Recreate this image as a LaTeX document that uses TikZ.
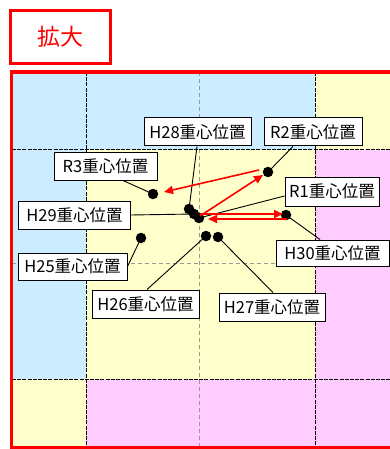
\documentclass[tikz,border=0pt]{standalone}
\usepackage{fontspec}
\newfontfamily\jp{Noto Sans CJK JP}
\usetikzlibrary{calc,arrows.meta}
\definecolor{cblue}{HTML}{CCECFF}
\definecolor{cyel}{HTML}{FFFFCC}
\definecolor{cpink}{HTML}{FFCCFF}
\definecolor{cred}{HTML}{FF0000}
\begin{document}
\begin{tikzpicture}[x=1pt,y=-1pt,
  gridline/.style={black,line width=1pt,dash pattern=on 4pt off 1.2pt},
  midline/.style={gray!80,line width=0.8pt,dash pattern=on 4pt off 3pt},
  lbl/.style={draw=black,fill=white,line width=1pt,inner sep=0pt,font=\jp\fontsize{16.5}{19}\selectfont},
  dot/.style={circle,fill=black,inner sep=0pt,minimum size=10.5pt},
  lead/.style={black,line width=0.9pt},
  redarr/.style={cred,line width=1.6pt,-{Triangle[length=9pt,width=8pt]}}
]
\useasboundingbox (0,0) rectangle (390,449);
% cells
\fill[cblue] (12,72) rectangle (86,150);
\fill[cblue] (86,72) rectangle (315,150);
\fill[cyel] (315,72) rectangle (390,150);
\fill[cblue] (12,150) rectangle (86,379);
\fill[cyel] (86,150) rectangle (315,379);
\fill[cpink] (315,150) rectangle (390,379);
\fill[cyel] (12,379) rectangle (86,449);
\fill[cpink] (86,379) rectangle (315,449);
\fill[cpink] (315,379) rectangle (390,449);
% grid
\draw[midline] (199,72) -- (199,449);
\draw[midline] (12,263) -- (390,263);
\draw[gridline] (86,72) -- (86,449);
\draw[gridline] (315,72) -- (315,449);
\draw[gridline] (12,150) -- (390,150);
\draw[gridline] (12,379) -- (390,379);
% red frame
\draw[cred,line width=3.2pt] (392,72) -- (11.5,72) -- (11.5,448) -- (392,448);
% title box
\node[draw=cred,line width=3pt,minimum width=100pt,minimum height=53pt,inner sep=0pt,text=cred,font=\jp\fontsize{23}{27}\selectfont] (title) at (60.5,37) {拡大};
% dot positions
\path (268,172) coordinate (pR2) (153,194) coordinate (pR3) (189,209) coordinate (pH28)
      (194,214) coordinate (pH29) (199,218) coordinate (pR1) (286,215) coordinate (pH30)
      (141,238) coordinate (pH25) (206,236) coordinate (pH26) (218,237) coordinate (pH27);
% labels
\node[lbl,minimum width=107pt,minimum height=28pt] (lH28) at (197.5,132) {H28重心位置};
\node[lbl,minimum width=98pt,minimum height=28pt] (lR2) at (313,132) {R2重心位置};
\node[lbl,minimum width=103pt,minimum height=27pt] (lR3) at (105.5,166.5) {R3重心位置};
\node[lbl,minimum width=94pt,minimum height=29pt] (lR1) at (332,191.5) {R1重心位置};
\node[lbl,minimum width=112pt,minimum height=28pt] (lH29) at (74.5,215) {H29重心位置};
\node[lbl,minimum width=113pt,minimum height=26pt] (lH30) at (332.5,253) {H30重心位置};
\node[lbl,minimum width=109pt,minimum height=27pt] (lH25) at (72.5,266.5) {H25重心位置};
\node[lbl,minimum width=107pt,minimum height=28pt] (lH26) at (145.5,304) {H26重心位置};
\node[lbl,minimum width=106pt,minimum height=28pt] (lH27) at (272,307) {H27重心位置};
% leader lines
\draw[lead] ($(lH28.south)+(-0.5,0)$) -- (pH28);
\draw[lead] ($(lR2.south)+(-20,0)$) -- (pR2);
\draw[lead] ($(lR3.south)+(17.5,0)$) -- (pR3);
\draw[lead] ($(lR1.west)+(0,4.5)$) -- (pR1);
\draw[lead] (lH29.east) -- (pH29);
\draw[lead] ($(lH30.north)+(-12.5,0)$) -- (pH30);
\draw[lead] (lH25.east) -- (pH25);
\draw[lead] ($(lH26.north)+(1.5,0)$) -- (pH26);
\draw[lead] ($(lH27.north)+(1,0)$) -- (pH27);
% dots
\node[dot] (dR2) at (pR2) {};
\node[dot] (dR3) at (pR3) {};
\node[dot] (dH28) at (pH28) {};
\node[dot] (dH29) at (pH29) {};
\node[dot] (dR1) at (pR1) {};
\node[dot] (dH30) at (pH30) {};
\node[dot] (dH25) at (pH25) {};
\node[dot] (dH26) at (pH26) {};
\node[dot] (dH27) at (pH27) {};
% red arrows
\draw[redarr] ($(dR2)+(-9,-2)$) -- ($(dR3)+(11,-2)$);
\draw[redarr] ($(dR1)+(1,-2)$) -- ($(dR2)+(-5,3)$);
\draw[redarr] ($(dR1)+(1,-4)$) -- ($(dH30)+(-3,-1)$);
\draw[redarr] ($(dH30)+(1,4)$) -- ($(dR1)+(9,1)$);
\end{tikzpicture}
\end{document}
